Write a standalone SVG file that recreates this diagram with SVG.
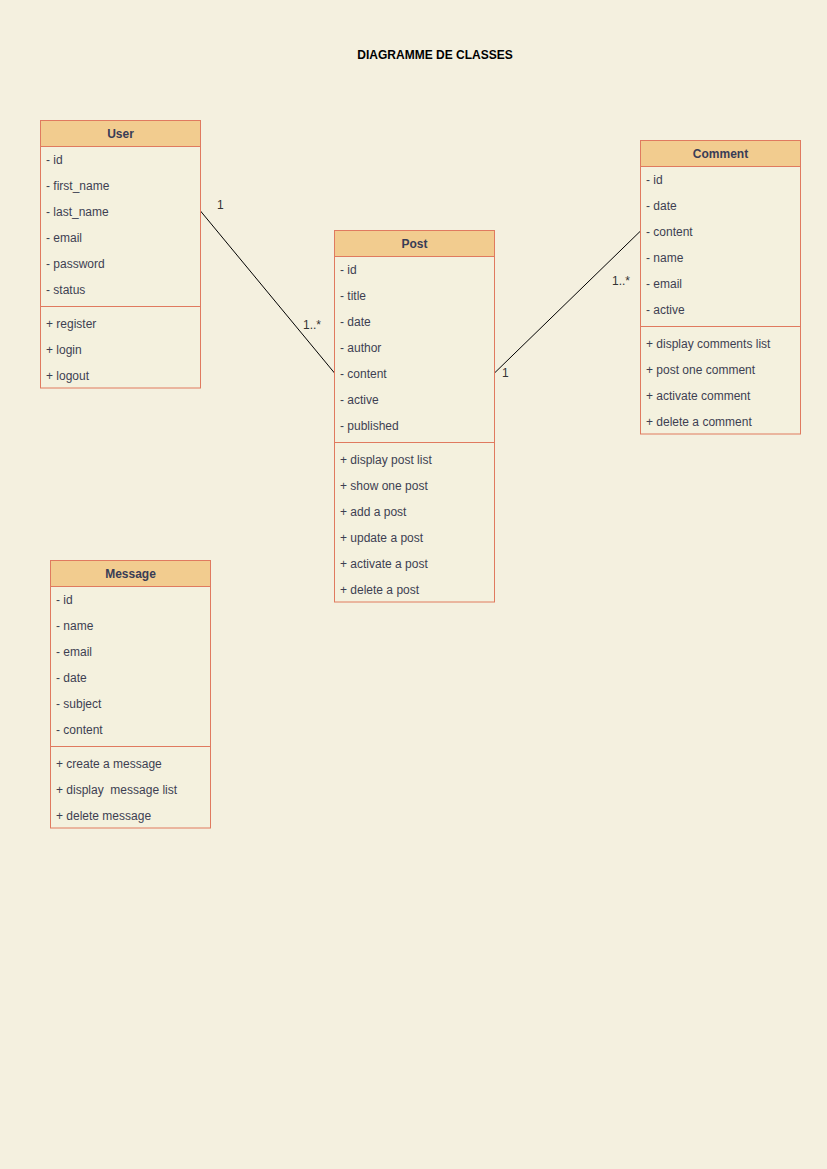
<svg xmlns="http://www.w3.org/2000/svg" width="827" height="1169" viewBox="0 0 827 1169">
  <style>
    .box { fill: #F4F1DE; stroke: #E07A5F; stroke-width: 1; }
    .head { fill: #F2CC8F; stroke: #E07A5F; stroke-width: 1; }
    .sep { stroke: #E07A5F; stroke-width: 1; }
    .title { font-family: "Liberation Sans", Arial, sans-serif; font-size: 12px; font-weight: bold; fill: #393C56; text-anchor: middle; dominant-baseline: central; }
    .row { font-family: "Liberation Sans", Arial, sans-serif; font-size: 12px; fill: #3D3F52; dominant-baseline: central; transform: translateY(1px); }
    .lbl { font-family: "Liberation Sans", Arial, sans-serif; font-size: 12px; fill: #333333; dominant-baseline: central; }
    .edge { stroke: #000000; stroke-width: 1; fill: none; }
  </style>
  <rect x="0" y="0" width="827" height="1169" fill="#F4F0DF"/>

  <text x="435" y="55" font-family="Liberation Sans, Arial, sans-serif" font-size="12" font-weight="bold" fill="#000000" text-anchor="middle" dominant-baseline="central">DIAGRAMME DE CLASSES</text>

  <g id="connectors">
    <path class="edge" d="M200.5 211 L334.5 373"/>
    <text class="lbl" x="217" y="205">1</text>
    <text class="lbl" x="303" y="325">1..*</text>
    <path class="edge" d="M494.5 373 L640.5 231"/>
    <text class="lbl" x="502" y="373">1</text>
    <text class="lbl" x="612" y="281">1..*</text>
  </g>

  <g id="user">
    <rect class="box" x="40.5" y="120.5" width="160" height="267.5"/>
    <rect class="head" x="40.5" y="120.5" width="160" height="26"/>
    <text class="title" x="120.5" y="133.5">User</text>
    <text class="row" x="46" y="159">- id</text>
    <text class="row" x="46" y="185">- first_name</text>
    <text class="row" x="46" y="211">- last_name</text>
    <text class="row" x="46" y="237">- email</text>
    <text class="row" x="46" y="263">- password</text>
    <text class="row" x="46" y="289">- status</text>
    <line class="sep" x1="40.5" y1="306.5" x2="200.5" y2="306.5"/>
    <text class="row" x="46" y="323">+ register</text>
    <text class="row" x="46" y="349">+ login</text>
    <text class="row" x="46" y="375">+ logout</text>
  </g>

  <g id="post">
    <rect class="box" x="334.5" y="230.5" width="160" height="371.5"/>
    <rect class="head" x="334.5" y="230.5" width="160" height="26"/>
    <text class="title" x="414.5" y="243.5">Post</text>
    <text class="row" x="340" y="269">- id</text>
    <text class="row" x="340" y="295">- title</text>
    <text class="row" x="340" y="321">- date</text>
    <text class="row" x="340" y="347">- author</text>
    <text class="row" x="340" y="373">- content</text>
    <text class="row" x="340" y="399">- active</text>
    <text class="row" x="340" y="425">- published</text>
    <line class="sep" x1="334.5" y1="442.5" x2="494.5" y2="442.5"/>
    <text class="row" x="340" y="459">+ display post list</text>
    <text class="row" x="340" y="485">+ show one post</text>
    <text class="row" x="340" y="511">+ add a post</text>
    <text class="row" x="340" y="537">+ update a post</text>
    <text class="row" x="340" y="563">+ activate a post</text>
    <text class="row" x="340" y="589">+ delete a post</text>
  </g>

  <g id="comment">
    <rect class="box" x="640.5" y="140.5" width="160" height="293.5"/>
    <rect class="head" x="640.5" y="140.5" width="160" height="26"/>
    <text class="title" x="720.5" y="153.5">Comment</text>
    <text class="row" x="646" y="179">- id</text>
    <text class="row" x="646" y="205">- date</text>
    <text class="row" x="646" y="231">- content</text>
    <text class="row" x="646" y="257">- name</text>
    <text class="row" x="646" y="283">- email</text>
    <text class="row" x="646" y="309">- active</text>
    <line class="sep" x1="640.5" y1="326.5" x2="800.5" y2="326.5"/>
    <text class="row" x="646" y="343">+ display comments list</text>
    <text class="row" x="646" y="369">+ post one comment</text>
    <text class="row" x="646" y="395">+ activate comment</text>
    <text class="row" x="646" y="421">+ delete a comment</text>
  </g>

  <g id="message">
    <rect class="box" x="50.5" y="560.5" width="160" height="267.5"/>
    <rect class="head" x="50.5" y="560.5" width="160" height="26"/>
    <text class="title" x="130.5" y="573.5">Message</text>
    <text class="row" x="56" y="599">- id</text>
    <text class="row" x="56" y="625">- name</text>
    <text class="row" x="56" y="651">- email</text>
    <text class="row" x="56" y="677">- date</text>
    <text class="row" x="56" y="703">- subject</text>
    <text class="row" x="56" y="729">- content</text>
    <line class="sep" x1="50.5" y1="746.5" x2="210.5" y2="746.5"/>
    <text class="row" x="56" y="763">+ create a message</text>
    <text class="row" x="56" y="789" xml:space="preserve">+ display  message list</text>
    <text class="row" x="56" y="815">+ delete message</text>
  </g>
</svg>
